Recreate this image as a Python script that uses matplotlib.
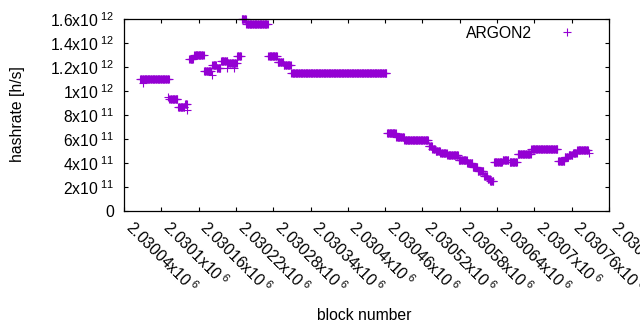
import numpy as np
import matplotlib
matplotlib.use("Agg")
import matplotlib.pyplot as plt
from matplotlib.ticker import FixedLocator, FuncFormatter

plt.rcParams['font.family'] = ['Liberation Sans', 'DejaVu Sans']
plt.rcParams['mathtext.fontset'] = 'custom'
plt.rcParams['mathtext.rm'] = 'Liberation Sans'
plt.rcParams['mathtext.it'] = 'Liberation Sans:italic'
plt.rcParams['font.size'] = 11.3

# hashrate runs: first block, last block, hashrate (x10^11 h/s)
seg_start = [2030066, 2030113, 2030127, 2030138, 2030145, 2030153, 2030169, 2030182, 2030189, 2030196,
             2030207, 2030222, 2030229, 2030237, 2030272, 2030287, 2030297, 2030309, 2030463, 2030478,
             2030491, 2030530, 2030536, 2030541, 2030549, 2030560, 2030578, 2030592, 2030601, 2030609,
             2030619, 2030625, 2030629, 2030635, 2030649, 2030660, 2030673, 2030695, 2030738, 2030749,
             2030755, 2030762, 2030769]
seg_end = [2030112, 2030126, 2030137, 2030141, 2030151, 2030168, 2030180, 2030188, 2030195, 2030206,
           2030221, 2030228, 2030236, 2030271, 2030286, 2030296, 2030308, 2030462, 2030477, 2030490,
           2030529, 2030535, 2030540, 2030548, 2030559, 2030577, 2030591, 2030600, 2030608, 2030618,
           2030624, 2030628, 2030634, 2030648, 2030658, 2030672, 2030694, 2030737, 2030748, 2030754,
           2030761, 2030768, 2030786]
seg_rate = [11.0, 9.35, 8.7, 8.95, 12.7, 13.0, 11.7, 12.15, 11.9, 12.5,
            12.35, 12.9, 16.0, 15.56, 12.9, 12.4, 12.2, 11.47, 6.47, 6.17,
            5.89, 5.4, 5.2, 4.97, 4.86, 4.67, 4.22, 3.97, 3.64, 3.31,
            2.92, 2.7, 2.5, 4.06, 4.22, 4.06, 4.75, 5.14, 4.17, 4.47,
            4.67, 4.8, 5.08]

# odd single blocks
pt_block = [2030070, 2030110, 2030142, 2030181, 2030206, 2030217, 2030788]
pt_rate = [10.7, 9.5, 8.4, 11.3, 11.9, 11.9, 4.85]

x_ticks = np.arange(2030040, 2030821, 60)
y_ticks = [0, 2e11, 4e11, 6e11, 8e11, 1e12, 1.2e12, 1.4e12, 1.6e12]

blocks = np.concatenate([np.arange(s, e + 1) for s, e in zip(seg_start, seg_end)] + [pt_block])
rates = np.concatenate([np.full(e - s + 1, r) for s, e, r in zip(seg_start, seg_end, seg_rate)] + [pt_rate]) * 1e11


def sci(v, pos=None):
    if v == 0:
        return "0"
    e = int(np.floor(np.log10(abs(v)) + 1e-9))
    m = v / 10 ** e
    return "%gx10$^{\\ %d}$" % (round(m, 6), e)


fig = plt.figure(figsize=(6.4, 3.3), dpi=100)
ax = fig.add_axes([124 / 640, 1 - 211 / 330, 485 / 640, 192 / 330])

ax.plot(blocks, rates, '+', color='#9400d3', ms=6, mew=0.8, label='ARGON2', clip_on=False)

ax.set_xlim(x_ticks[0], x_ticks[-1])
ax.set_ylim(0, 1.6e12)
ax.xaxis.set_major_locator(FixedLocator(x_ticks))
ax.yaxis.set_major_locator(FixedLocator(y_ticks))
ax.xaxis.set_major_formatter(FuncFormatter(sci))
ax.yaxis.set_major_formatter(FuncFormatter(sci))
ax.tick_params(direction='in', top=True, right=True, length=3, width=0.8)
ax.tick_params(axis='y', pad=7)
ax.tick_params(axis='x', pad=13)
for lab in ax.get_xticklabels():
    lab.set_rotation(-45)
    lab.set_ha('left')
    lab.set_va('baseline')
    lab.set_rotation_mode('anchor')
for sp in ax.spines.values():
    sp.set_linewidth(0.9)

fig.text(364 / 640, 1 - 315 / 330, 'block number', ha='center', va='center')
fig.text(18 / 640, 1 - 114 / 330, 'hashrate [h/s]', ha='center', va='center', rotation=90)

ax.legend(loc='upper right', bbox_to_anchor=(0.946, 0.965), frameon=False, markerfirst=False,
          borderaxespad=0, borderpad=0, handlelength=2, handletextpad=1.25)

fig.savefig('out.png', dpi=100)
